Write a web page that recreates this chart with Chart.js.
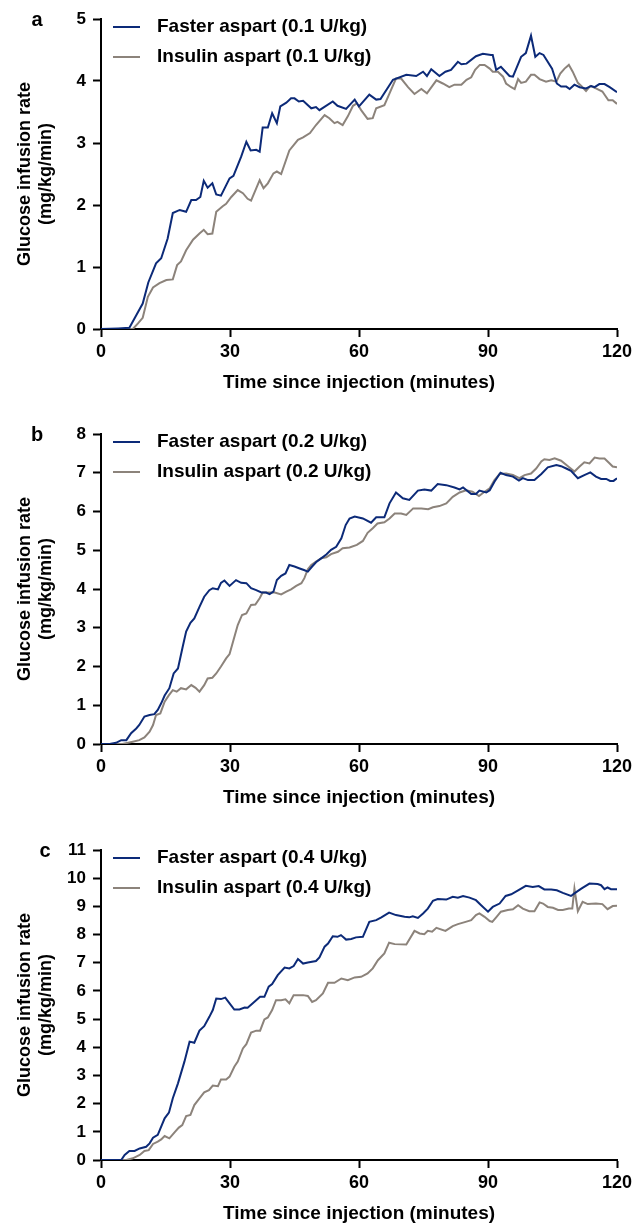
<!DOCTYPE html>
<html>
<head>
<meta charset="utf-8">
<script src="https://cdn.jsdelivr.net/npm/chart.js@4.4.1/dist/chart.umd.min.js"></script>
<style>
  body { margin: 0; background: #fff; width: 644px; height: 1224px; overflow: hidden; position: relative; }
  canvas { position: absolute; left: 0; }
</style>
</head>
<body>
<canvas id="chartA" width="644" height="400" style="top:0px"></canvas>
<canvas id="chartB" width="644" height="415" style="top:400px"></canvas>
<canvas id="chartC" width="644" height="416" style="top:815px"></canvas>
<script>
// [minutes, mg/kg/min]
const fasterA = [[0,0],[4,0.01],[6.6,0.02],[8.2,0.22],[9.7,0.41],[11,0.75],[12.8,1.06],[14,1.14],[15.5,1.46],[16.7,1.87],[18.3,1.92],[19.8,1.89],[21,2.08],[22.1,2.08],[23.1,2.13],[23.9,2.39],[24.8,2.28],[25.9,2.35],[26.8,2.17],[27.9,2.15],[29.9,2.43],[30.8,2.47],[32.6,2.78],[33.8,3.02],[34.8,2.88],[36.1,2.89],[36.9,2.86],[37.6,3.25],[38.8,3.25],[39.8,3.48],[40.9,3.32],[41.7,3.59],[43.1,3.65],[44.2,3.72],[45,3.72],[46,3.67],[47,3.68],[48.9,3.56],[50,3.58],[50.8,3.53],[53.9,3.67],[55,3.6],[57,3.55],[59,3.7],[60,3.59],[62.4,3.78],[64,3.7],[65,3.71],[67.9,4.02],[71,4.1],[73.3,4.08],[74.9,4.15],[75.8,4.08],[76.8,4.19],[78.7,4.08],[80.1,4.15],[81.4,4.18],[83,4.31],[83.8,4.27],[85,4.28],[87.2,4.4],[88.8,4.44],[90.7,4.42],[91.1,4.42],[91.9,4.18],[93,4.23],[95,4.08],[95.8,4.07],[97.7,4.39],[98.8,4.45],[100,4.73],[101,4.39],[102,4.45],[102.9,4.42],[104.9,4.2],[106,3.96],[107,3.91],[108.2,3.91],[109,3.87],[110.1,3.94],[111.3,3.9],[112.8,3.88],[114,3.92],[114.8,3.9],[115.9,3.95],[117.1,3.95],[118.3,3.9],[120,3.82]];
const aspartA = [[0,0],[7.4,0],[8.6,0.09],[9.7,0.18],[10.9,0.52],[12.1,0.67],[13.6,0.74],[15.2,0.79],[16.7,0.8],[17.7,1.03],[18.6,1.09],[19.8,1.27],[21.4,1.44],[22.9,1.54],[23.9,1.6],[24.8,1.53],[25.9,1.54],[26.8,1.89],[28.3,1.98],[29.1,2.02],[30.3,2.13],[31.8,2.24],[33,2.19],[34.1,2.1],[34.9,2.07],[36.9,2.4],[37.8,2.27],[38.8,2.35],[40.1,2.51],[40.9,2.54],[41.9,2.5],[43.8,2.88],[45.8,3.05],[47,3.09],[48.6,3.16],[50,3.29],[52,3.45],[53.1,3.4],[54.3,3.32],[55,3.34],[56.2,3.29],[57.4,3.43],[58.6,3.6],[59.5,3.64],[60.5,3.53],[62,3.39],[63.2,3.4],[64,3.56],[65.9,3.61],[67.1,3.8],[68.6,4.04],[69.8,4.04],[71.4,3.9],[72.9,3.79],[74.5,3.87],[75.8,3.8],[78,4.01],[79.5,3.96],[81,3.9],[82.2,3.94],[83.8,3.94],[85,4.02],[86.1,4.06],[87,4.18],[88.1,4.26],[89.2,4.26],[90.4,4.2],[91.1,4.15],[92.3,4.15],[93.5,4.07],[94.2,3.96],[95.4,3.9],[96.2,3.87],[97,4.03],[97.7,3.97],[98.8,3.99],[100,4.1],[100.8,4.1],[102,4.03],[103.5,3.99],[104.7,4.01],[105.9,3.99],[106.8,4.12],[107.8,4.2],[108.8,4.26],[109.7,4.15],[110.9,3.97],[111.7,3.92],[112.8,3.84],[113.8,3.92],[115.1,3.88],[116.6,3.83],[118,3.69],[119,3.69],[120,3.63]];

const fasterB = [[0,0],[2,0],[3.5,0.03],[4.7,0.1],[5.9,0.1],[7,0.28],[8.2,0.4],[8.9,0.49],[10.1,0.71],[11.3,0.75],[12.4,0.77],[13.2,0.88],[14,1.05],[14.8,1.25],[15.9,1.44],[16.9,1.82],[17.9,1.95],[19,2.51],[19.8,2.9],[20.8,3.13],[21.7,3.24],[22.9,3.54],[24,3.8],[25.2,3.97],[26,4.02],[27.2,3.99],[27.9,4.16],[28.7,4.22],[29.9,4.08],[31.4,4.23],[32.6,4.16],[33.8,4.15],[34.9,4.02],[36.1,3.97],[37.3,3.91],[38.4,3.91],[39.2,3.87],[40.1,3.93],[40.9,4.23],[41.9,4.34],[42.9,4.4],[43.8,4.62],[45,4.58],[46.2,4.53],[47.2,4.49],[48.1,4.45],[49.1,4.58],[50,4.69],[51.2,4.79],[52.4,4.89],[53.5,5.01],[54.7,5.09],[55.9,5.31],[56.9,5.65],[57.8,5.82],[59,5.87],[60.9,5.82],[62.8,5.71],[64,5.85],[65.9,5.85],[67.1,6.21],[68.6,6.49],[70.2,6.34],[71.7,6.3],[73.7,6.54],[75.2,6.57],[76.8,6.54],[78.3,6.71],[80.3,6.68],[82.2,6.62],[83.4,6.57],[84.2,6.62],[86.1,6.45],[87.2,6.45],[88,6.54],[89.6,6.49],[90.4,6.55],[91.5,6.77],[92.9,7],[94.2,6.94],[95.8,6.9],[97.2,6.8],[98.1,6.86],[99.3,6.81],[100.8,6.81],[102.4,6.97],[103.9,7.14],[105.9,7.2],[107,7.17],[108.2,7.11],[109.3,7.05],[110.9,6.86],[112.4,6.94],[113.8,7.01],[115.1,6.9],[116.3,6.84],[117.5,6.84],[118.4,6.79],[119.2,6.79],[120,6.86]];
const aspartB = [[0,0],[5,0],[7.4,0.06],[8.9,0.1],[10.1,0.17],[11.3,0.32],[12.1,0.49],[12.8,0.75],[13.8,0.79],[14.8,1.09],[15.8,1.26],[16.7,1.39],[17.6,1.35],[18.6,1.44],[19.8,1.41],[21,1.52],[22,1.45],[22.9,1.35],[24,1.52],[24.8,1.69],[25.9,1.71],[26.8,1.82],[27.9,2],[29.1,2.21],[29.9,2.32],[30.8,2.68],[31.8,3.07],[32.8,3.33],[33.8,3.37],[34.9,3.59],[35.9,3.6],[36.9,3.76],[37.6,3.91],[38.8,3.91],[40.4,3.91],[41.9,3.86],[43.1,3.93],[44.2,3.99],[45.4,4.08],[46.6,4.15],[47.3,4.28],[48.1,4.51],[48.9,4.62],[50,4.71],[51.2,4.79],[52.4,4.82],[53.5,4.9],[55.1,4.96],[56.2,5.05],[57.8,5.07],[59.5,5.14],[60.9,5.24],[62,5.45],[63.2,5.57],[64.3,5.69],[65.9,5.72],[67.1,5.82],[68.3,5.95],[69.8,5.95],[71,5.91],[72.6,6.08],[74.5,6.08],[76.1,6.06],[77.2,6.11],[78.7,6.14],[80.3,6.21],[81.8,6.38],[83.4,6.49],[84.9,6.55],[86.4,6.51],[87.9,6.4],[89.2,6.51],[90.4,6.6],[91.5,6.81],[92.7,6.97],[94.2,6.98],[95.8,6.94],[97.3,6.86],[98.5,6.94],[100,6.98],[101.2,7.11],[102.4,7.29],[103.1,7.35],[104.3,7.33],[105.5,7.37],[107,7.31],[108.6,7.17],[110.1,7.03],[111.3,7.16],[112.4,7.27],[113.6,7.24],[114.8,7.39],[115.9,7.37],[117.1,7.37],[118.3,7.24],[119,7.16],[120,7.14]];

const fasterC = [[0,0],[4.7,0],[5.5,0.18],[6.6,0.32],[7.8,0.32],[9,0.41],[10.5,0.47],[11.3,0.59],[12.1,0.79],[13.2,0.89],[14.8,1.48],[15.8,1.68],[16.7,2.19],[17.9,2.72],[19.4,3.49],[20.6,4.2],[21.7,4.16],[22.9,4.59],[24,4.75],[25.2,5.08],[26,5.32],[26.8,5.73],[27.9,5.71],[28.9,5.76],[29.9,5.56],[31,5.34],[32.2,5.34],[33.4,5.41],[34.1,5.4],[35.3,5.56],[37,5.79],[38,5.79],[39,6.15],[39.8,6.24],[41.1,6.56],[42.7,6.83],[43.8,6.8],[44.8,6.88],[45.8,7.13],[47,6.97],[48.1,7.01],[50,7.06],[50.8,7.19],[52,7.57],[52.8,7.68],[53.9,7.94],[55,7.92],[55.8,7.98],[57,7.82],[58.2,7.84],[59.3,7.9],[60.9,7.92],[62.4,8.45],[64,8.51],[65.2,8.61],[67,8.78],[68.6,8.69],[70.6,8.63],[71.7,8.61],[72.5,8.65],[73.7,8.59],[74.9,8.75],[76,8.92],[77.2,9.2],[78.3,9.26],[80.3,9.24],[81.8,9.34],[83,9.31],[84.2,9.37],[85.7,9.31],[87.2,9.22],[88.4,9.04],[90,8.81],[91.1,8.98],[92.7,9.1],[94.1,9.37],[95.4,9.43],[97,9.57],[98.8,9.73],[100.4,9.69],[101.8,9.72],[103.1,9.6],[104.7,9.6],[106,9.57],[107.4,9.48],[109.3,9.37],[110.1,9.46],[111.7,9.63],[113.6,9.81],[115.5,9.79],[116.3,9.75],[117.1,9.61],[117.8,9.67],[118.6,9.61],[120,9.61]];
const aspartC = [[0,0],[5.9,0],[7.4,0.06],[9,0.18],[10.1,0.32],[11.1,0.35],[12.1,0.57],[13.2,0.65],[14,0.73],[14.8,0.85],[15.9,0.77],[17.1,0.98],[18.1,1.15],[18.9,1.24],[19.8,1.56],[20.8,1.6],[21.7,1.95],[22.9,2.19],[24,2.4],[25.1,2.48],[26,2.64],[27.2,2.62],[27.9,2.86],[29.1,2.86],[29.9,2.96],[31,3.31],[31.8,3.49],[33,3.96],[33.8,4.11],[34.9,4.52],[36.1,4.59],[37,4.59],[38,4.99],[38.8,5.06],[39.8,5.32],[40.7,5.67],[41.9,5.67],[42.9,5.7],[43.8,5.56],[44.8,5.85],[47,5.85],[48.1,5.82],[49.1,5.61],[50,5.67],[51.6,5.91],[52.8,6.29],[54.3,6.29],[55.9,6.44],[57.4,6.38],[59,6.48],[60.5,6.5],[62,6.62],[63.2,6.8],[64.4,7.09],[65.9,7.33],[67,7.71],[68.3,7.66],[71,7.65],[72.9,8.13],[74.1,8.04],[75.2,8.01],[76,8.13],[77,8.1],[78,8.24],[80.1,8.13],[81.8,8.3],[83,8.37],[84.8,8.45],[86.1,8.51],[87.2,8.69],[88,8.75],[89.2,8.63],[90.4,8.48],[91,8.45],[91.9,8.61],[93,8.81],[94.6,8.87],[95.8,8.9],[97,9.04],[98.1,8.92],[99.6,8.83],[100.8,8.83],[102,9.14],[102.8,9.1],[103.9,8.98],[105.1,8.95],[106.3,8.87],[107.4,8.87],[108.8,8.92],[109.6,8.92],[110.1,9.63],[110.9,8.83],[112,9.16],[113.2,9.08],[115.1,9.1],[116.6,9.08],[117.8,8.9],[119,9.01],[120,9.02]];

const xTicks = [0, 30, 60, 90, 120];
const yMax = { a: 5, b: 8, c: 11 };
const doses = { a: '0.1', b: '0.2', c: '0.4' };
const xTitle = 'Time since injection (minutes)';
const yTitle = ['Glucose infusion rate', '(mg/kg/min)'];

const BLUE = '#0c2a78';
const GREY = '#8c837b';
const FONT = '"Liberation Sans", Arial, sans-serif';

// panel letter + in-plot legend
const panelText = {
  id: 'panelText',
  afterDraw(chart, args, opts) {
    const { ctx, chartArea } = chart;
    ctx.save();
    ctx.fillStyle = '#000';
    ctx.textBaseline = 'middle';
    ctx.textAlign = 'center';
    ctx.font = 'bold 20px ' + FONT;
    ctx.fillText(opts.letter, opts.letterX, chartArea.top + 1);

    ctx.font = 'bold 19px ' + FONT;
    ctx.textAlign = 'left';
    chart.data.datasets.forEach((ds, i) => {
      const y = chartArea.top + 8 + i * 30;
      ctx.strokeStyle = ds.borderColor;
      ctx.lineWidth = 2;
      ctx.beginPath();
      ctx.moveTo(113, y);
      ctx.lineTo(140, y);
      ctx.stroke();
      ctx.fillText(ds.label, 157, y);
    });
    ctx.restore();
  }
};

const toPts = arr => arr.map(p => ({ x: p[0], y: p[1] }));

function makeChart(id, key, faster, aspart, padTop, letterX) {
  const axisCommon = {
    border: { display: true, color: '#000', width: 2 },
    grid: { drawOnChartArea: false, drawTicks: true, tickLength: 8, tickWidth: 2, tickColor: '#000' },
  };
  return new Chart(document.getElementById(id), {
    type: 'line',
    data: {
      datasets: [
        { label: `Faster aspart (${doses[key]} U/kg)`, data: toPts(faster), borderColor: BLUE, borderWidth: 2 },
        { label: `Insulin aspart (${doses[key]} U/kg)`, data: toPts(aspart), borderColor: GREY, borderWidth: 2 },
      ]
    },
    options: {
      responsive: false,
      animation: false,
      devicePixelRatio: 1,
      layout: { padding: { top: padTop, right: 27, left: 0, bottom: 0 } },
      elements: { point: { radius: 0 }, line: { tension: 0 } },
      plugins: {
        legend: { display: false },
        tooltip: { enabled: false },
        panelText: { letter: key, letterX: letterX },
      },
      scales: {
        x: {
          ...axisCommon,
          type: 'linear',
          min: 0, max: 120,
          afterBuildTicks: s => { s.ticks = xTicks.map(v => ({ value: v })); },
          afterFit: s => { s.height = 71; },
          ticks: { color: '#000', padding: 4, maxRotation: 0, autoSkip: false, font: { family: FONT, size: 18, weight: 'bold' } },
          title: { display: true, text: xTitle, color: '#000', padding: { top: 0, bottom: 5.6 }, font: { family: FONT, size: 19, weight: 'bold' } },
        },
        y: {
          ...axisCommon,
          min: 0, max: yMax[key],
          afterFit: s => { s.width = 101; },
          ticks: { stepSize: 1, color: '#000', padding: 7, font: { family: FONT, size: 17, weight: 'bold' } },
          title: { display: true, text: yTitle, color: '#000', padding: { top: 14, bottom: 0 }, font: { family: FONT, size: 18, weight: 'bold' } },
        }
      }
    },
    plugins: [panelText]
  });
}

makeChart('chartA', 'a', fasterA, aspartA, 19, 37);
makeChart('chartB', 'b', fasterB, aspartB, 34, 37);
makeChart('chartC', 'c', fasterC, aspartC, 35, 45);
</script>
</body>
</html>
